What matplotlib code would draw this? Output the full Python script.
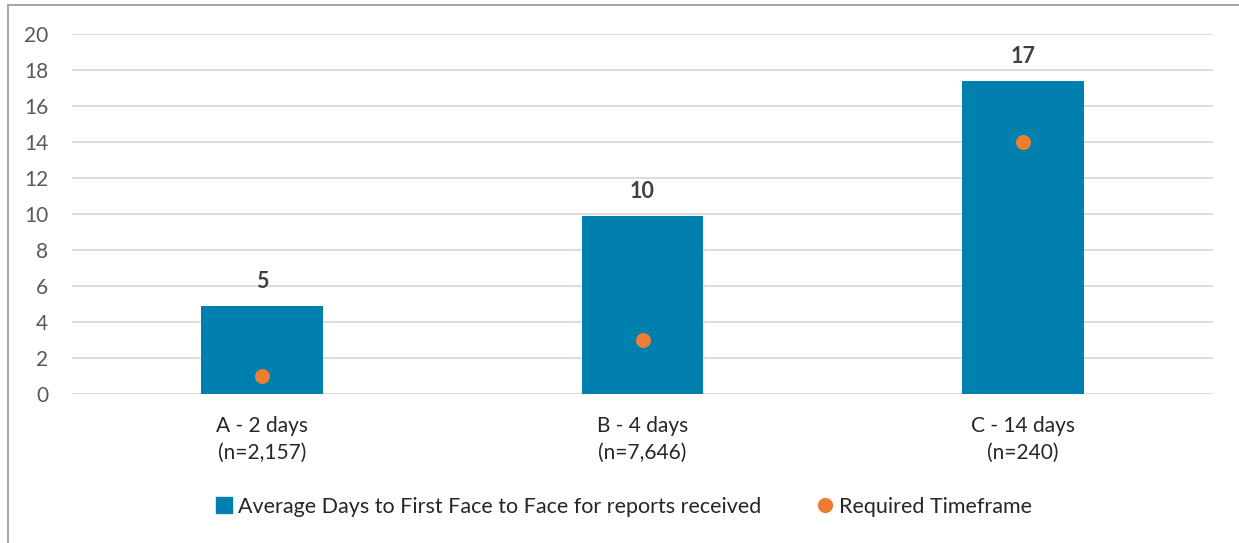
import matplotlib
matplotlib.use("Agg")
import matplotlib.pyplot as plt
from matplotlib.lines import Line2D

# Data
categories = ["A - 2 days\n(n=2,157)", "B - 4 days\n(n=7,646)", "C - 14 days\n(n=240)"]
avg_days = [4.9, 9.9, 17.4]
required_days = [1, 3, 14]
y_ticks = [0, 2, 4, 6, 8, 10, 12, 14, 16, 18, 20]

bar_label = "Average Days to First Face to Face for reports received"
dot_label = "Required Timeframe"
title = "Average Days to First Face to Face by Response Type"

BAR_COLOR = "#0080AE"
DOT_COLOR = "#ED7D31"
GRID_COLOR = "#D9D9D9"
TICK_COLOR = "#595959"
TEXT_COLOR = "#262626"

plt.rcParams["font.family"] = ["Lato", "DejaVu Sans"]

W, H, DPI = 1239, 543, 100
fig = plt.figure(figsize=(W / DPI, H / DPI), dpi=DPI)

# Axes placement in pixel terms
left_px, right_px, top_px, bottom_px = 72, 1213, 34, 394
ax = fig.add_axes([left_px / W, (H - bottom_px) / H,
                   (right_px - left_px) / W, (bottom_px - top_px) / H])

x = list(range(len(categories)))
bars = ax.bar(x, avg_days, width=0.32, color=BAR_COLOR, zorder=2, label=bar_label)
ax.scatter(x, required_days, s=15 ** 2 * (72 / DPI) ** 2, color=DOT_COLOR,
           zorder=3, label=dot_label, linewidths=0)

for rect, v in zip(bars, avg_days):
    ax.annotate(f"{v:.0f}", (rect.get_x() + rect.get_width() / 2, v),
                xytext=(0, 10), textcoords="offset points",
                ha="center", va="bottom", fontsize=15.5, fontweight="bold",
                color="#404040")

ax.set_xlim(-0.5, len(categories) - 0.5)
ax.set_ylim(0, 20)
ax.set_yticks(y_ticks)
ax.set_xticks(x)
ax.set_xticklabels(categories, fontsize=15, color=TEXT_COLOR, linespacing=1.4)
ax.tick_params(axis="y", length=0, pad=17, labelsize=15, labelcolor=TICK_COLOR)
ax.tick_params(axis="x", length=0, pad=16)
ax.yaxis.grid(True, color=GRID_COLOR, linewidth=1.3, zorder=0)
ax.set_axisbelow(True)
for s in ax.spines.values():
    s.set_visible(False)

# Chart frame (top and left edges)
fig.add_artist(Line2D([7.5 / W, 7.5 / W], [0, (H - 5) / H], transform=fig.transFigure,
                      color="#A6A6A6", linewidth=1.4))
fig.add_artist(Line2D([7.5 / W, 1], [(H - 5) / H, (H - 5) / H], transform=fig.transFigure,
                      color="#A6A6A6", linewidth=1.4))

# Title sits above the frame
fig.text(0.5, 1 + 1.5 / H, title, ha="center", va="bottom", fontsize=16,
         fontweight="bold", color="#404040")

handles = [
    Line2D([], [], marker="s", ls="", color=BAR_COLOR, markersize=11),
    Line2D([], [], marker="o", ls="", color=DOT_COLOR, markersize=11, markeredgewidth=0),
]
fig.legend(handles, [bar_label, dot_label], loc="center",
           bbox_to_anchor=(624 / W, (H - 507) / H), ncol=2, frameon=False,
           fontsize=15.5, handlelength=0.7, handletextpad=0.3, columnspacing=2.6,
           labelcolor=TEXT_COLOR)

fig.savefig("out.png", dpi=DPI)
